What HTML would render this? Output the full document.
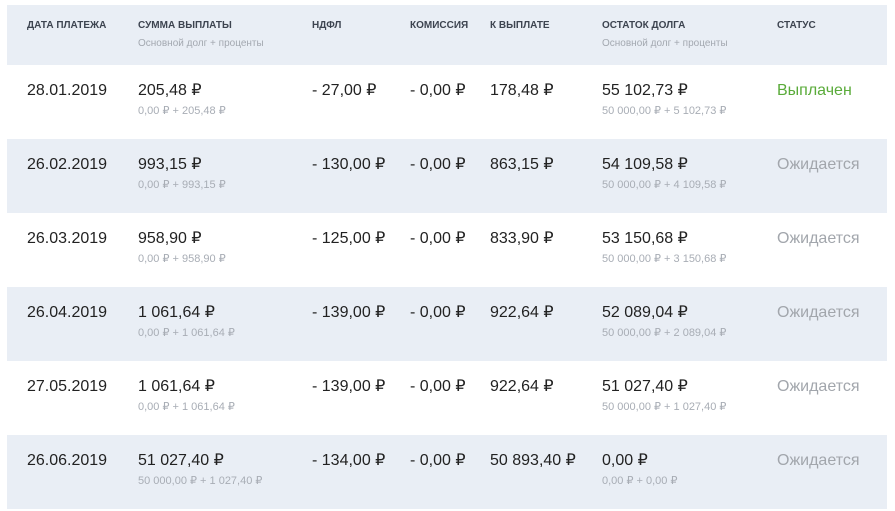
<!DOCTYPE html>
<html><head><meta charset="utf-8"><style>
body{margin:0;width:895px;height:511px;background:#fff;font-family:"Liberation Sans",Arial,sans-serif;position:relative;overflow:hidden}
.hdr{position:absolute;left:7px;top:5px;width:880px;height:60px;background:#e9eef5}
.row{position:absolute;left:7px;width:880px;height:74px}
.g{background:#e9eef5}
.c{position:absolute;white-space:nowrap}
.h{font-size:10px;font-weight:bold;color:#3d4450;top:15px;line-height:12px}
.hs{font-size:10px;color:#a3a8b0;top:33px;line-height:12px}
.m{font-size:16px;color:#222;top:17px;line-height:18px;height:18px}
.s{font-size:11px;color:#a8adb5;top:40px;line-height:13px;height:13px}
.ok{color:#5aab3a}
.wait{color:#a2a6ac}
</style></head><body>
<div class="hdr">
<div class="c h" style="left:20px">ДАТА ПЛАТЕЖА</div>
<div class="c h" style="left:131px">СУММА ВЫПЛАТЫ</div>
<div class="c hs" style="left:131px">Основной долг + проценты</div>
<div class="c h" style="left:305px">НДФЛ</div>
<div class="c h" style="left:403px">КОМИССИЯ</div>
<div class="c h" style="left:483px">К ВЫПЛАТЕ</div>
<div class="c h" style="left:595px">ОСТАТОК ДОЛГА</div>
<div class="c hs" style="left:595px">Основной долг + проценты</div>
<div class="c h" style="left:770px">СТАТУС</div>
</div>
<div id="rows"></div>
<script>
const dates=["28.01.2019","26.02.2019","26.03.2019","26.04.2019","27.05.2019","26.06.2019"];
const amounts=["205,48 ₽","993,15 ₽","958,90 ₽","1 061,64 ₽","1 061,64 ₽","51 027,40 ₽"];
const amountSubs=["0,00 ₽ + 205,48 ₽","0,00 ₽ + 993,15 ₽","0,00 ₽ + 958,90 ₽","0,00 ₽ + 1 061,64 ₽","0,00 ₽ + 1 061,64 ₽","50 000,00 ₽ + 1 027,40 ₽"];
const ndfl=["- 27,00 ₽","- 130,00 ₽","- 125,00 ₽","- 139,00 ₽","- 139,00 ₽","- 134,00 ₽"];
const commission=["- 0,00 ₽","- 0,00 ₽","- 0,00 ₽","- 0,00 ₽","- 0,00 ₽","- 0,00 ₽"];
const payout=["178,48 ₽","863,15 ₽","833,90 ₽","922,64 ₽","922,64 ₽","50 893,40 ₽"];
const remain=["55 102,73 ₽","54 109,58 ₽","53 150,68 ₽","52 089,04 ₽","51 027,40 ₽","0,00 ₽"];
const remainSubs=["50 000,00 ₽ + 5 102,73 ₽","50 000,00 ₽ + 4 109,58 ₽","50 000,00 ₽ + 3 150,68 ₽","50 000,00 ₽ + 2 089,04 ₽","50 000,00 ₽ + 1 027,40 ₽","0,00 ₽ + 0,00 ₽"];
const statuses=["Выплачен","Ожидается","Ожидается","Ожидается","Ожидается","Ожидается"];
const host=document.getElementById('rows');
function cell(parent,cls,left,text,name){
  const d=document.createElement('div');
  d.className='c '+cls;d.style.left=left+'px';d.textContent=text;
  
  
  parent.appendChild(d);
}
dates.forEach((dt,i)=>{
  const r=document.createElement('div');
  r.className='row'+(i%2?' g':'');
  r.style.top=(65+i*74)+'px';
  
  
  cell(r,'m',20,dt,'payment-date');
  cell(r,'m',131,amounts[i],'payment-amount');
  cell(r,'s',131,amountSubs[i],'payment-amount-breakdown');
  cell(r,'m',305,ndfl[i],'ndfl-value');
  cell(r,'m',403,commission[i],'commission-value');
  cell(r,'m',483,payout[i],'payout-value');
  cell(r,'m',595,remain[i],'remaining-debt');
  cell(r,'s',595,remainSubs[i],'remaining-debt-breakdown');
  cell(r,'m '+(statuses[i]==='Выплачен'?'ok':'wait'),770,statuses[i],'payment-status');
  host.appendChild(r);
});
</script>
</body></html>
